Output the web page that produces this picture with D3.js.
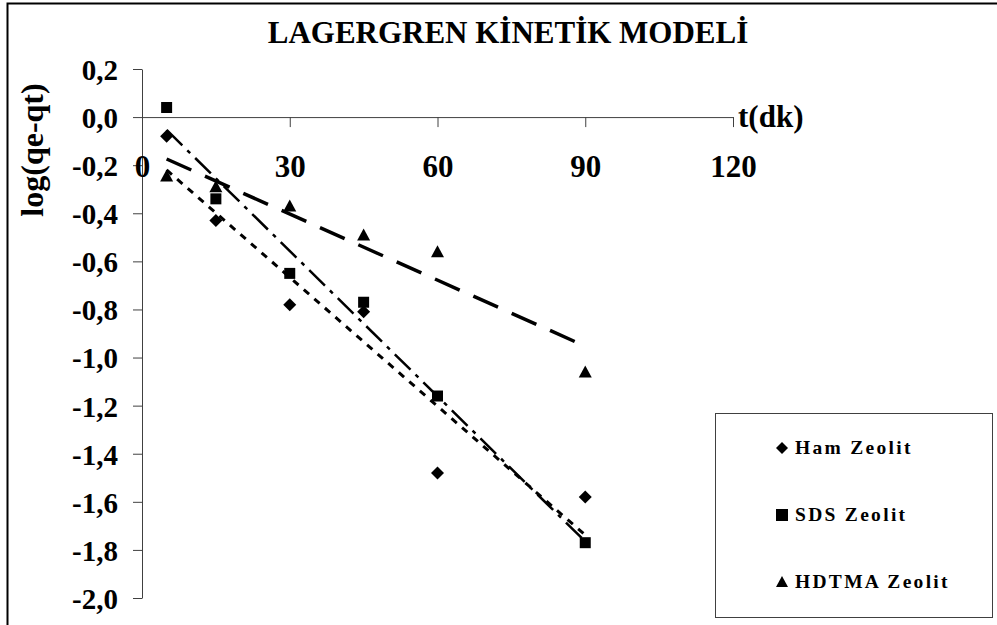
<!DOCTYPE html>
<html>
<head>
<meta charset="utf-8">
<script src="https://cdn.jsdelivr.net/npm/d3@7"></script>
<style>
  html, body { margin: 0; padding: 0; background: #fff; }
  svg { display: block; }
  text { font-family: "Liberation Serif", "Times New Roman", Tinos, serif; font-weight: bold; fill: #000; }
</style>
</head>
<body>
<svg id="chart" width="997" height="625"></svg>
<script>
// Sampling times (dk) and log(qe-qt) for each adsorbent
const times = [5, 15, 30, 45, 60, 90];
const hamZeolit = [-0.08, -0.43, -0.78, -0.81, -1.48, -1.58];
const sdsZeolit = [0.04, -0.34, -0.65, -0.77, -1.16, -1.77];
const hdtmaZeolit = [-0.245, -0.29, -0.37, -0.49, -0.56, -1.06];

const seriesNames = ["Ham Zeolit", "SDS Zeolit", "HDTMA Zeolit"];
const xTicks = [0, 30, 60, 90, 120];
const yTicks = [-2.0, -1.8, -1.6, -1.4, -1.2, -1.0, -0.8, -0.6, -0.4, -0.2, 0.0, 0.2];

const titleText = "LAGERGREN KİNETİK MODELİ";
const xLabel = "t(dk)";
const yLabel = "log(qe-qt)";

const serif = '"Liberation Serif", "Times New Roman", Tinos, serif';
const svg = d3.select("#chart");

// Outer frame (open on the right and bottom)
svg.append("rect")
  .attr("x", 7.5).attr("y", 3.5)
  .attr("width", 1100).attr("height", 700)
  .attr("fill", "none").attr("stroke", "#000").attr("stroke-width", 2);

const x = d3.scaleLinear().domain([0, 120]).range([142, 733]);
const y = d3.scaleLinear().domain([-2.0, 0.2]).range([598, 69]);

const locale = d3.formatLocale({ decimal: ",", thousands: ".", grouping: [3], currency: ["", ""], minus: "-" });
const fmt = locale.format(".1f");

// Y axis
const yAxis = svg.append("g")
  .attr("transform", `translate(${x(0)},0)`)
  .call(d3.axisLeft(y).tickValues(yTicks).tickSize(9).tickSizeOuter(0).tickPadding(15).tickFormat(fmt));
yAxis.selectAll("text")
  .attr("font-size", 29).attr("dy", "0.36em")
  .style("font-family", serif).style("font-weight", "bold").attr("fill", "#000");

// X axis crossing at y = 0, labels set well below
const xAxis = svg.append("g")
  .attr("transform", `translate(0,${y(0)})`)
  .call(d3.axisBottom(x).tickValues(xTicks).tickSize(10).tickSizeOuter(0).tickPadding(28).tickFormat(d3.format("d")));
xAxis.selectAll("text")
  .attr("font-size", 31)
  .style("font-family", serif).style("font-weight", "bold").attr("fill", "#000");

svg.selectAll(".domain, .tick line").attr("stroke", "#404040").attr("stroke-width", 1);

// Titles
svg.append("text").attr("x", 508).attr("y", 43).attr("text-anchor", "middle")
  .attr("font-size", 31).text(titleText);
svg.append("text").attr("x", 738).attr("y", 127).attr("font-size", 31).text(xLabel);
svg.append("text").attr("transform", "translate(43,150) rotate(-90)").attr("text-anchor", "middle")
  .attr("font-size", 32).text(yLabel);

// Series definitions
const series = [
  { name: seriesNames[0], values: hamZeolit, marker: "diamond", dash: "7,7", width: 3 },
  { name: seriesNames[1], values: sdsZeolit, marker: "square", dash: "22,7,4,7", width: 2.5 },
  { name: seriesNames[2], values: hdtmaZeolit, marker: "triangle", dash: "27,15", width: 3.5 }
];

function markerPath(type, s) {
  const h = s / 2;
  if (type === "diamond") return `M0,${-h}L${h},0L0,${h}L${-h},0Z`;
  if (type === "square") return `M${-h},${-h}H${h}V${h}H${-h}Z`;
  return `M0,${-h}L${h},${h * 0.85}L${-h},${h * 0.85}Z`;
}
const markerSize = { diamond: 13, square: 11, triangle: 13 };

// Least-squares linear trend for each series
function linearFit(xs, ys) {
  const mx = d3.mean(xs), my = d3.mean(ys);
  let sxy = 0, sxx = 0;
  xs.forEach((xi, i) => { sxy += (xi - mx) * (ys[i] - my); sxx += (xi - mx) ** 2; });
  const b = sxy / sxx;
  return { a: my - b * mx, b };
}

const line = d3.line().x(d => x(d[0])).y(d => y(d[1]));
const xMin = d3.min(times), xMax = d3.max(times);

series.forEach(s => {
  const fit = linearFit(times, s.values);
  svg.append("path")
    .datum([[xMin, fit.a + fit.b * xMin], [xMax, fit.a + fit.b * xMax]])
    .attr("d", line)
    .attr("fill", "none").attr("stroke", "#000")
    .attr("stroke-width", s.width).attr("stroke-dasharray", s.dash);
});

series.forEach(s => {
  svg.append("g").selectAll("path")
    .data(times.map((t, i) => [t, s.values[i]]))
    .join("path")
    .attr("transform", d => `translate(${x(d[0])},${y(d[1])})`)
    .attr("d", markerPath(s.marker, markerSize[s.marker]))
    .attr("fill", "#000");
});

// Legend
const legend = svg.append("g");
legend.append("rect").attr("x", 715.5).attr("y", 413.5).attr("width", 277).attr("height", 204)
  .attr("fill", "#fff").attr("stroke", "#404040").attr("stroke-width", 1);
series.forEach((s, i) => {
  const cy = 448 + i * 67;
  legend.append("path").attr("transform", `translate(782,${cy})`)
    .attr("d", markerPath(s.marker, 12)).attr("fill", "#000");
  legend.append("text").attr("x", 795).attr("y", cy + 6)
    .attr("font-size", 19.5).attr("letter-spacing", 2.3).text(s.name);
});
</script>
</body>
</html>
